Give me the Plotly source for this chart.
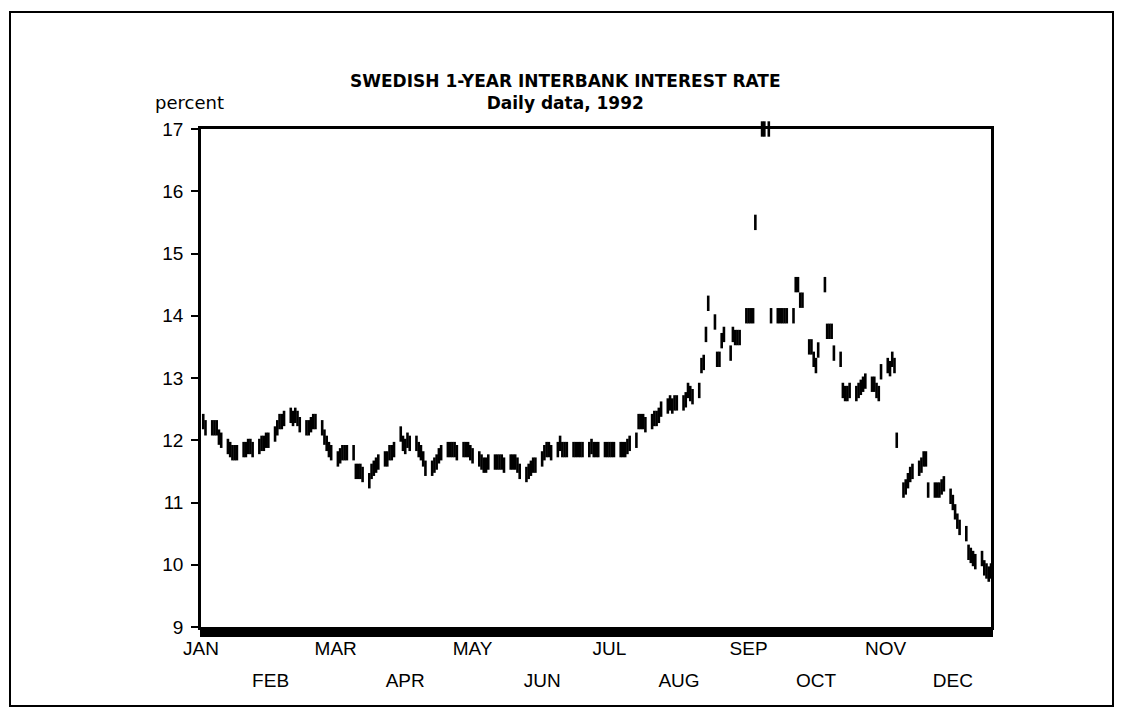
import pandas as pd
import plotly.graph_objects as go

# ---- data: daily values (business days) ----
jan_vals = [12.3, 12.2, 12.2, 12.2, 12.2, 12.05, 12.0, 11.9, 11.85, 11.8, 11.8, 11.8,
            11.85, 11.85, 11.9, 11.9, 11.85, 11.9, 11.95, 11.95, 12.0, 12.0]
feb_vals = [12.1, 12.2, 12.3, 12.3, 12.35, 12.4, 12.35, 12.4, 12.35, 12.25,
            12.2, 12.2, 12.25, 12.3, 12.3, 12.2, 12.05, 11.95, 11.85, 11.8]
mar_vals = [11.7, 11.75, 11.8, 11.8, 11.8, 11.8, 11.5, 11.5, 11.5, 11.45,
            11.35, 11.5, 11.55, 11.6, 11.65, 11.7, 11.7, 11.8, 11.8, 11.85, 12.1, 11.95]
apr_vals = [11.9, 12.0, 11.95, 11.95, 11.85, 11.8, 11.7, 11.55, 11.55, 11.6, 11.65, 11.75, 11.8,
            11.85, 11.85, 11.85, 11.85, 11.8, 11.85, 11.85, 11.85, 11.8]
may_vals = [11.75, 11.7, 11.65, 11.6, 11.6, 11.65, 11.65, 11.65, 11.65, 11.65, 11.6,
            11.65, 11.65, 11.65, 11.6, 11.5, 11.45, 11.5, 11.55, 11.6, 11.6]
jun_vals = [11.7, 11.8, 11.85, 11.85, 11.8, 11.85, 11.95, 11.85, 11.85, 11.85,
            11.85, 11.85, 11.85, 11.85, 11.85, 11.85, 11.9, 11.85, 11.85, 11.85, 11.85, 11.85]
jul_vals = [11.85, 11.85, 11.85, 11.85, 11.85, 11.85, 11.9, 11.95, 12.0, 12.3, 12.3, 12.3, 12.25,
            12.3, 12.35, 12.35, 12.4, 12.5, 12.55, 12.6, 12.55, 12.6, 12.6]
aug_vals = [12.6, 12.65, 12.8, 12.75, 12.7, 12.8, 13.2, 13.25, 13.7, 14.2,
            13.9, 13.3, 13.3, 13.6, 13.7, 13.4, 13.7, 13.65, 13.65, 13.65, 14.0]
sep_vals = [14.0, 14.0, 14.0, 15.5, 17.0, 17.0, None, 17.0, 14.0,
            14.0, 14.0, 14.0, 14.0, 14.0, 14.0, 14.5, 14.5, 14.25, 14.25, 13.5, 13.5, 13.3]
oct_vals = [13.2, 13.45, 14.5, 13.75, 13.75, 13.75, 13.4, 13.3, 12.8, 12.75, 12.75, 12.8,
            12.75, 12.8, 12.85, 12.9, 12.95, 12.9, 12.9, 12.8, 12.75, 13.1]
nov_vals = [13.2, 13.15, 13.3, 13.2, 12.0, 11.2, 11.25, 11.35, 11.45, 11.5,
            11.55, 11.6, 11.7, 11.7, 11.2, 11.2, 11.2, 11.2, 11.25, 11.3, 11.1]
dec_vals = [11.0, 10.85, 10.7, 10.6, 10.5, 10.2, 10.15, 10.1, 10.05,
            10.1, 9.95, 9.9, 9.85, 9.9]

month_starts = ["1992-01-02", "1992-02-01", "1992-03-01", "1992-04-01", "1992-05-01", "1992-06-01",
                "1992-07-01", "1992-08-01", "1992-09-01", "1992-10-01", "1992-11-01", "1992-12-01"]
month_ends = ["1992-01-31", "1992-02-29", "1992-03-31", "1992-04-30", "1992-05-31", "1992-06-30",
              "1992-07-31", "1992-08-31", "1992-09-30", "1992-10-31", "1992-11-30", "1992-12-18"]
month_labels = ["JAN", "FEB", "MAR", "APR", "MAY", "JUN", "JUL", "AUG", "SEP", "OCT", "NOV", "DEC"]
month_ticks = ["1992-01-01", "1992-02-01", "1992-03-01", "1992-04-01", "1992-05-01", "1992-06-01",
               "1992-07-01", "1992-08-01", "1992-09-01", "1992-10-01", "1992-11-01", "1992-12-01"]

all_vals = [jan_vals, feb_vals, mar_vals, apr_vals, may_vals, jun_vals,
            jul_vals, aug_vals, sep_vals, oct_vals, nov_vals, dec_vals]

dates, values = [], []
for s, e, v in zip(month_starts, month_ends, all_vals):
    d = pd.bdate_range(s, e)
    n = min(len(d), len(v))
    dates.extend(list(d[:n]))
    values.extend(v[:n])

fig = go.Figure()
fig.add_trace(go.Scatter(
    x=dates, y=values, mode="markers", cliponaxis=False, showlegend=False,
    marker=dict(symbol="line-ns", size=11, color="black",
                line=dict(width=2.6, color="black")),
))
# invisible trace to activate the second (label) axis
fig.add_trace(go.Scatter(x=[month_ticks[0]], y=[None], xaxis="x2", showlegend=False,
                         mode="markers", hoverinfo="skip"))

odd_vals = month_ticks[0::2]
odd_text = month_labels[0::2]
even_vals = month_ticks[1::2]
even_text = month_labels[1::2]

font_tick = dict(family="Liberation Sans Narrow, Arial Narrow, sans-serif", size=19, color="black")

fig.update_layout(
    width=1115, height=702,
    margin=dict(l=193, r=132, t=121, b=83),
    paper_bgcolor="white", plot_bgcolor="white",
    xaxis=dict(
        type="date", range=["1992-01-01", "1992-12-18"],
        tickmode="array", tickvals=odd_vals, ticktext=odd_text,
        tickfont=font_tick, ticks="outside", ticklen=2, tickwidth=2, tickcolor="black",
        minor=dict(dtick=86400000, ticks="outside", ticklen=7, tickwidth=2.6, tickcolor="black"),
        showgrid=False, zeroline=False,
        showline=True, linecolor="black", linewidth=2.5, mirror=True,
        ticklabelstandoff=0,
    ),
    xaxis2=dict(
        type="date", overlaying="x", matches="x", anchor="y", side="bottom",
        tickmode="array", tickvals=even_vals, ticktext=even_text,
        tickfont=font_tick, ticks="", showgrid=False, zeroline=False, showline=False,
        ticklabelstandoff=40,
    ),
    yaxis=dict(
        range=[9, 17], tickmode="linear", tick0=9, dtick=1,
        tickfont=dict(family="Liberation Sans, Arial, sans-serif", size=19, color="black"),
        ticks="outside", ticklen=7, tickwidth=2, tickcolor="black",
        showgrid=False, zeroline=False,
        showline=True, linecolor="black", linewidth=2.5, mirror=True,
        ticklabelstandoff=4,
    ),
)

title_font = dict(family="DejaVu Sans, Verdana, sans-serif", size=17, color="black")
fig.add_annotation(text="<b>SWEDISH 1-YEAR INTERBANK INTEREST RATE</b><br><b>Daily data, 1992</b>",
                   xref="paper", yref="paper",
                   x=0.462, y=(627 - 92) / 498, xanchor="center", yanchor="middle",
                   showarrow=False, font=title_font, align="center")
fig.add_annotation(text="percent", xref="paper", yref="paper",
                   x=-0.0608, y=1.0542, xanchor="left", yanchor="middle", showarrow=False,
                   font=dict(family="DejaVu Sans, Verdana, sans-serif", size=18, color="black"))

# outer frame
fig.add_shape(type="rect", xref="paper", yref="paper",
              x0=(10 - 201) / 790, x1=(1113 - 201) / 790,
              y0=(627 - 706) / 498, y1=(627 - 12) / 498,
              line=dict(color="black", width=2), fillcolor="rgba(0,0,0,0)")

fig.write_html("out.html")
